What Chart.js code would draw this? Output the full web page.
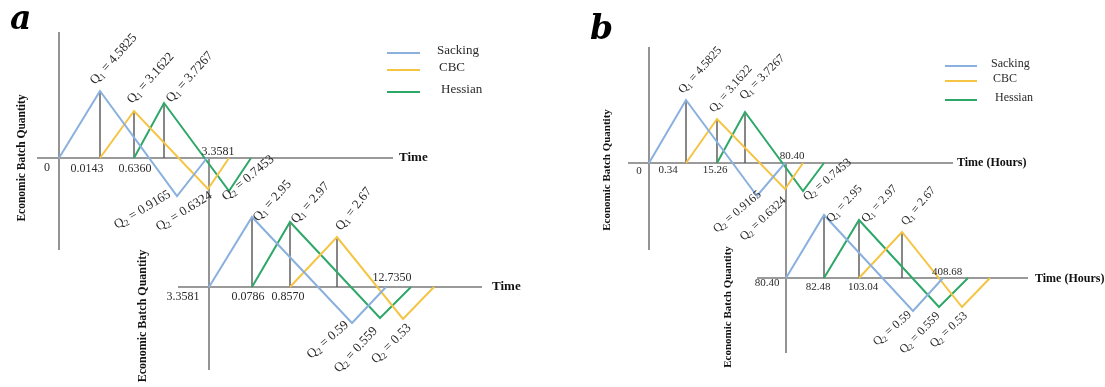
<!DOCTYPE html>
<html><head><meta charset="utf-8">
<script src="https://cdn.jsdelivr.net/npm/chart.js@4/dist/chart.umd.min.js"></script>
<style>html,body{margin:0;padding:0;background:#fff;overflow:hidden}#wrap{position:relative;width:1105px;height:387px}</style>
</head><body><div id="wrap"><canvas id="c" width="1105" height="387"></canvas></div>
<script>
// ---- data (schematic units of each sub-diagram: time along, quantity up) ----
const seriesNames = ['Sacking', 'CBC', 'Hessian'];
const seriesColors = ['#8AB0DE', '#F4C443', '#2EA868'];

// panel a, first cycle (order of series: Sacking, CBC, Hessian)
const aTopTimes = [[0, 41, 118, 148], [41, 75, 149, 170], [75, 105, 170, 192]];
const aTopQty   = [[0, 67, -38, 0],   [0, 47, -31, 0],    [0, 55, -33, 0]];
const aTopTicks = ['0', '0.0143', '0.6360'];
const aTopEnd = '3.3581';
const aTopQ1 = ['4.5825', '3.1622', '3.7267'];
const aTopQ2 = ['0.9165', '0.6324', '0.7453'];

// panel a, second cycle (Sacking, CBC, Hessian)
const aBotTimes = [[0, 43, 143, 177], [81, 128, 194, 225], [43, 81, 171, 202]];
const aBotQty   = [[0, 70, -36, 0],   [0, 50, -32, 0],     [0, 65, -31, 0]];
const aBotTicks = ['3.3581', '0.0786', '0.8570'];
const aBotEnd = '12.7350';
const aBotQ1 = ['2.95', '2.97', '2.67'];
const aBotQ2 = ['0.59', '0.559', '0.53'];

// panel b, first cycle
const bTopTimes = [[0, 37, 108, 136], [37, 68, 136, 154], [68, 96, 154, 175]];
const bTopQty   = [[0, 63, -33, 0],   [0, 44, -26, 0],    [0, 51, -28, 0]];
const bTopTicks = ['0', '0.34', '15.26'];
const bTopEnd = '80.40';
const bTopQ1 = ['4.5825', '3.1622', '3.7267'];
const bTopQ2 = ['0.9165', '0.6324', '0.7453'];

// panel b, second cycle
const bBotTimes = [[0, 38, 127, 157], [73, 116, 176, 204], [38, 73, 153, 182]];
const bBotQty   = [[0, 63, -33, 0],   [0, 46, -29, 0],     [0, 58, -29, 0]];
const bBotTicks = ['80.40', '82.48', '103.04'];
const bBotEnd = '408.68';
const bBotQ1 = ['2.95', '2.97', '2.67'];
const bBotQ2 = ['0.59', '0.559', '0.53'];

// ---- layout ----
const W = 1105, H = 387;
const subs = [
  { id: 'aT', ox: 59, oy: 158, times: aTopTimes, qty: aTopQty, hAxis: [-22, 334], vAxis: [126, -92],
    ticks: aTopTicks, tickPos: [[-12, -10], [28, -11], [76, -11]], end: aTopEnd, endPos: [159, 6],
    q1: aTopQ1, q1Pos: [[36, 73, -48], [73, 54, -48], [112, 55, -48]],
    q2: aTopQ2, q2Pos: [[58, -71, -31], [100, -73, -32], [167, -43, -40]],
    title: 'Time', titlePos: [340, 0], titleSize: 13, yTitle: [-37, 0], yTitleSize: 11.5, font: 12, qFont: 13 },
  { id: 'aB', ox: 209, oy: 287, times: aBotTimes, qty: aBotQty, hAxis: [-31, 273], vAxis: [130, -83],
    ticks: aBotTicks, tickPos: [[-26, -10], [39, -10], [79, -10]], end: aBotEnd, endPos: [183, 9],
    q1: aBotQ1, q1Pos: [[49, 65, -48], [87, 63, -48], [132, 56, -52]],
    q2: aBotQ2, q2Pos: [[102, -72, -41], [130, -86, -47], [167, -77, -45]],
    title: 'Time', titlePos: [283, 0], titleSize: 13, yTitle: [-66, -29], yTitleSize: 12, font: 12, qFont: 13 },
  { id: 'bT', ox: 649, oy: 163, times: bTopTimes, qty: bTopQty, hAxis: [-21, 304], vAxis: [116, -87],
    ticks: bTopTicks, tickPos: [[-10, -8], [19, -7], [66, -7]], end: bTopEnd, endPos: [143, 7],
    q1: bTopQ1, q1Pos: [[34, 69, -48], [65, 50, -49], [95, 63, -45]],
    q2: bTopQ2, q2Pos: [[68, -70, -40], [95, -78, -43], [158, -38, -40]],
    title: 'Time (Hours)', titlePos: [308, 0], titleSize: 12, yTitle: [-42, -7], yTitleSize: 11, font: 11, qFont: 12 },
  { id: 'bB', ox: 786, oy: 278, times: bBotTimes, qty: bBotQty, hAxis: [-29, 242], vAxis: [115, -75],
    ticks: bBotTicks, tickPos: [[-19, -5], [32, -9], [77, -9]], end: bBotEnd, endPos: [161, 6],
    q1: bBotQ1, q1Pos: [[45, 55, -47], [80, 55, -47], [120, 52, -50]],
    q2: bBotQ2, q2Pos: [[91, -68, -41], [118, -76, -46], [148, -70, -43]],
    title: 'Time (Hours)', titlePos: [249, -1], titleSize: 12, yTitle: [-58, -29], yTitleSize: 11, font: 11, qFont: 12 }
];
const legends = [
  { x1: 387, x2: 420, textX: [437, 439, 441], ys: [53, 70, 92], size: 13 },
  { x1: 945, x2: 977, textX: [991, 993, 995], ys: [66, 81, 100], size: 12 }
];
const panelLetters = [{ t: 'a', x: 10, y: 29, size: 33 }, { t: 'b', x: 590, y: 39, size: 33 }];

// ---- build datasets ----
const datasets = [];
const scales = {};
subs.forEach(s => {
  const xid = s.id + 'x', yid = s.id + 'y';
  scales[xid] = { type: 'linear', display: false, min: -s.ox, max: W - s.ox };
  scales[yid] = { type: 'linear', display: false, min: s.oy - H, max: s.oy };
  const base = { xAxisID: xid, yAxisID: yid, showLine: true, pointRadius: 0, fill: false, tension: 0 };
  // axes
  datasets.push(Object.assign({}, base, { order: 3, borderColor: '#9a9a9a', borderWidth: 2.2,
    data: [{ x: s.hAxis[0], y: 0 }, { x: s.hAxis[1], y: 0 }] }));
  datasets.push(Object.assign({}, base, { order: 3, borderColor: '#7a7a7a', borderWidth: 1.6,
    data: [{ x: 0, y: s.vAxis[0] }, { x: 0, y: s.vAxis[1] }] }));
  // drop lines from each peak
  s.times.forEach((t, i) => {
    datasets.push(Object.assign({}, base, { order: 2, borderColor: '#555', borderWidth: 1.4,
      data: [{ x: t[1], y: s.qty[i][1] }, { x: t[1], y: 0 }] }));
  });
  // series
  s.times.forEach((t, i) => {
    datasets.push(Object.assign({}, base, { order: 1, label: seriesNames[i], borderColor: seriesColors[i], borderWidth: 2,
      data: t.map((v, k) => ({ x: v, y: s.qty[i][k] })) }));
  });
});

const SERIF = '"Liberation Serif", "DejaVu Serif", serif';
function drawQ(ctx, x, y, sub, val, ang, size) {
  ctx.save();
  ctx.translate(x, y);
  ctx.rotate(ang * Math.PI / 180);
  ctx.textBaseline = 'alphabetic';
  ctx.textAlign = 'left';
  ctx.font = size + 'px ' + SERIF;
  ctx.fillText('Q', 0, 0);
  let w = ctx.measureText('Q').width;
  ctx.font = Math.round(size * 0.7) + 'px ' + SERIF;
  ctx.fillText(sub, w, 2.5);
  w += ctx.measureText(sub).width;
  ctx.font = size + 'px ' + SERIF;
  ctx.fillText(' = ' + val, w, 0);
  ctx.restore();
}

const textPlugin = {
  id: 'texts',
  afterDatasetsDraw(chart) {
    const ctx = chart.ctx;
    ctx.save();
    subs.forEach(s => {
      const X = v => chart.scales[s.id + 'x'].getPixelForValue(v);
      const Y = v => chart.scales[s.id + 'y'].getPixelForValue(v);
      ctx.fillStyle = '#2a2a2a';
      ctx.font = s.font + 'px ' + SERIF;
      ctx.textAlign = 'center'; ctx.textBaseline = 'middle';
      s.ticks.forEach((t, i) => ctx.fillText(t, X(s.tickPos[i][0]), Y(s.tickPos[i][1])));
      ctx.fillText(s.end, X(s.endPos[0]), Y(s.endPos[1]));
      s.q1.forEach((v, i) => drawQ(ctx, X(s.q1Pos[i][0]), Y(s.q1Pos[i][1]), '1', v, s.q1Pos[i][2], s.qFont));
      s.q2.forEach((v, i) => drawQ(ctx, X(s.q2Pos[i][0]), Y(s.q2Pos[i][1]), '2', v, s.q2Pos[i][2], s.qFont));
      ctx.fillStyle = '#111';
      ctx.font = 'bold ' + s.titleSize + 'px ' + SERIF;
      ctx.textAlign = 'left'; ctx.textBaseline = 'middle';
      ctx.fillText(s.title, X(s.titlePos[0]), Y(s.titlePos[1]));
      ctx.save();
      ctx.translate(X(s.yTitle[0]), Y(s.yTitle[1]));
      ctx.rotate(-Math.PI / 2);
      ctx.font = 'bold ' + s.yTitleSize + 'px ' + SERIF;
      ctx.textAlign = 'center';
      ctx.fillText('Economic Batch Quantity', 0, 0);
      ctx.restore();
    });
    legends.forEach(L => {
      seriesNames.forEach((n, i) => {
        ctx.strokeStyle = seriesColors[i]; ctx.lineWidth = 2;
        ctx.beginPath(); ctx.moveTo(L.x1, L.ys[i]); ctx.lineTo(L.x2, L.ys[i]); ctx.stroke();
        ctx.fillStyle = '#2a2a2a';
        ctx.font = L.size + 'px ' + SERIF;
        ctx.textAlign = 'left'; ctx.textBaseline = 'middle';
        ctx.fillText(n, L.textX[i], L.ys[i] - 2);
      });
    });
    panelLetters.forEach(p => {
      ctx.fillStyle = '#000';
      ctx.font = 'italic bold ' + p.size + 'px "DejaVu Serif", serif';
      ctx.textAlign = 'left'; ctx.textBaseline = 'alphabetic';
      ctx.fillText(p.t, p.x, p.y);
    });
    ctx.restore();
  }
};

new Chart(document.getElementById('c'), {
  type: 'scatter',
  data: { datasets },
  options: {
    responsive: false, animation: false, events: [],
    layout: { padding: 0 },
    scales,
    plugins: { legend: { display: false }, tooltip: { enabled: false }, title: { display: false } }
  },
  plugins: [textPlugin]
});
</script></body></html>
